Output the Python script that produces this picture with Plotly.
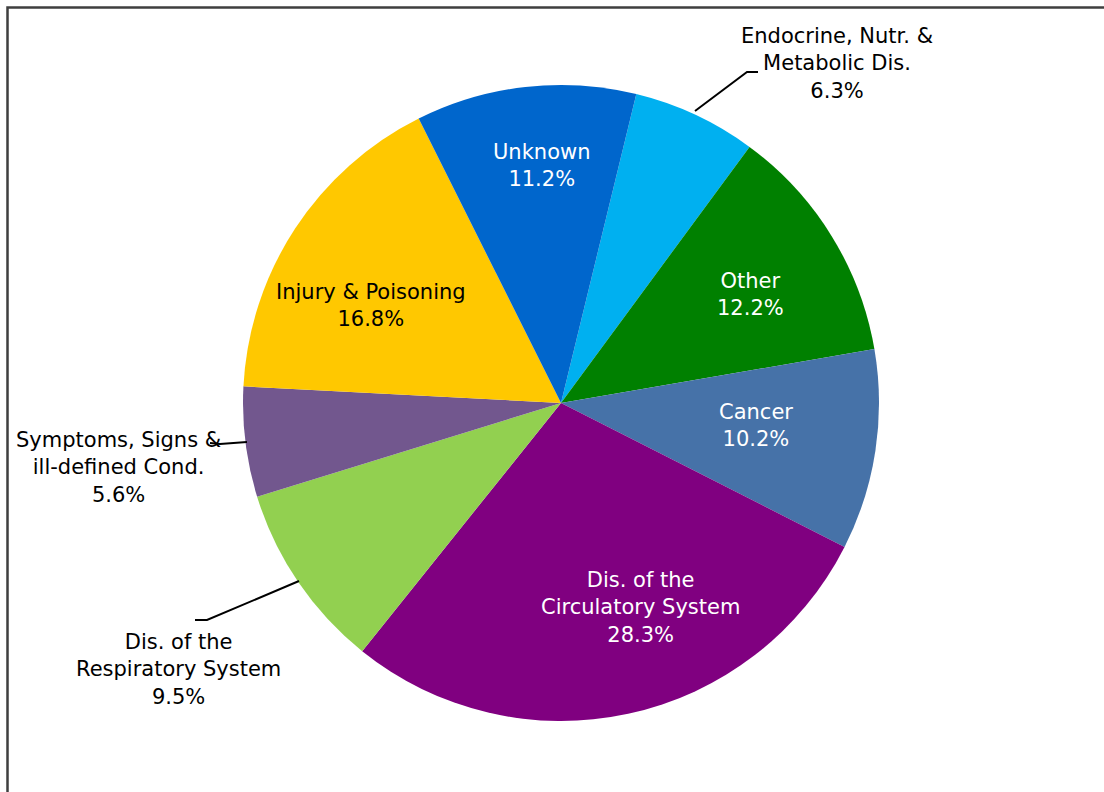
import plotly.graph_objects as go

# ---- data ----
categories = [
    "Endocrine, Nutr. &<br>Metabolic Dis.",
    "Other",
    "Cancer",
    "Dis. of the<br>Circulatory System",
    "Dis. of the<br>Respiratory System",
    "Symptoms, Signs &<br>ill-defined Cond.",
    "Injury & Poisoning",
    "Unknown",
]
values = [6.3, 12.2, 10.2, 28.3, 9.5, 5.6, 16.8, 11.2]
colors = ["#00B0F0", "#008000", "#4672A8", "#800080", "#92D050", "#72578E", "#FFC800", "#0066CC"]
text_colors = ["#000000", "#FFFFFF", "#FFFFFF", "#FFFFFF", "#000000", "#000000", "#000000", "#FFFFFF"]

W, H = 1104, 792
cx, cy, R = 561, 403, 318

# label centre positions (pixels) -- layout, not data
label_pos = [
    (837, 64), (750, 294), (756, 425), (640, 607),
    (178, 669), (118, 467), (371, 305), (541, 165),
]
# leader lines (pixels)
leaders = [
    [(695, 111), (747, 72), (758, 72)],
    [(299, 581), (207, 620), (195, 620)],
    [(247, 442), (220, 444), (210, 443)],
]

FONT = "DejaVu Sans, Tahoma, Verdana, sans-serif"

fig = go.Figure(go.Pie(
    labels=categories,
    values=values,
    sort=False,
    direction="clockwise",
    rotation=13.7,
    marker=dict(colors=colors, line=dict(width=0)),
    textinfo="none",
    hoverinfo="skip",
    showlegend=False,
    domain=dict(x=[(cx - R) / W, (cx + R) / W], y=[1 - (cy + R) / H, 1 - (cy - R) / H]),
))

def px(x, y):
    return x / W, 1 - y / H

annotations = []
for lab, v, (x, y), tc in zip(categories, values, label_pos, text_colors):
    ax, ay = px(x, y)
    annotations.append(dict(
        x=ax, y=ay, xref="paper", yref="paper",
        text=f"{lab}<br>{v:.1f}%", showarrow=False,
        font=dict(family=FONT, size=21, color=tc),
        align="center", xanchor="center", yanchor="middle",
    ))

shapes = []
for pts in leaders:
    path = "M " + " L ".join(f"{px(x, y)[0]},{px(x, y)[1]}" for x, y in pts)
    shapes.append(dict(type="path", path=path, xref="paper", yref="paper",
                       line=dict(color="#000000", width=2)))
# chart border (top and left visible)
shapes.append(dict(type="rect", xref="paper", yref="paper",
                   x0=7.5 / W, x1=1.05, y0=-0.05, y1=1 - 7.5 / H,
                   line=dict(color="#3F3F3F", width=2.5), fillcolor="rgba(0,0,0,0)"))

fig.update_layout(
    width=W, height=H,
    margin=dict(l=0, r=0, t=0, b=0),
    paper_bgcolor="white", plot_bgcolor="white",
    annotations=annotations, shapes=shapes,
)

fig.write_html("out.html", config={"displayModeBar": False},
               post_script="document.body.style.margin='0';document.body.style.overflow='hidden';")
